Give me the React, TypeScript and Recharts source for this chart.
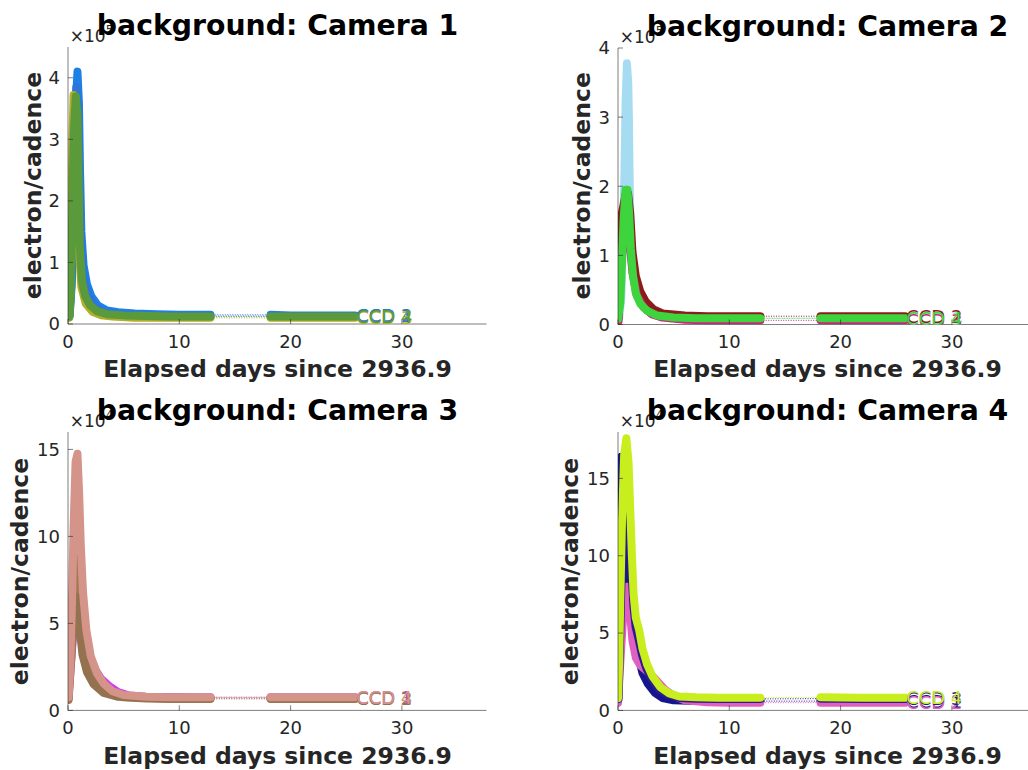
import React from "react";
import { LineChart, Line, XAxis, YAxis } from "recharts";

type Pair = [number, number];

const FONT = "'DejaVu Sans', 'Liberation Sans', sans-serif";
const INK = "#262626";

const xTicks = [0, 10, 20, 30];
const xMax = 37.6;
const smallYTicks = [0, 1, 2, 3, 4];
const bigYTicks = [0, 5, 10, 15];
const ccdNames = ["CCD 1", "CCD 2", "CCD 3", "CCD 4"];

// camera 1, x 1e5
const cam1Ccd1: Pair[] = [[0.15, 0.13], [0.35, 0.7], [0.5, 2.2], [0.65, 3.4], [0.85, 4.1], [0.98, 3.6], [1.08, 2.5], [1.2, 1.5], [1.4, 0.95], [1.7, 0.65], [2.1, 0.45], [2.7, 0.3], [3.5, 0.22], [4.5, 0.19], [6, 0.17], [8, 0.16], [10, 0.15], [11.5, 0.15], [12.8, 0.15], [18.2, 0.15], [20, 0.14], [22, 0.14], [24, 0.14], [25.8, 0.14]];
const cam1Ccd2: Pair[] = [[0.12, 0.12], [0.3, 0.6], [0.45, 2.0], [0.6, 3.3], [0.75, 3.85], [0.9, 3.3], [1.0, 2.2], [1.15, 1.2], [1.4, 0.7], [1.8, 0.45], [2.3, 0.3], [3, 0.2], [4, 0.16], [6, 0.14], [8, 0.13], [10, 0.13], [11.5, 0.13], [12.8, 0.13], [18.2, 0.13], [20, 0.13], [22, 0.13], [24, 0.13], [25.8, 0.13]];
const cam1Ccd3: Pair[] = [[0.1, 0.1], [0.2, 0.5], [0.3, 1.8], [0.4, 3.0], [0.5, 3.72], [0.65, 3.4], [0.8, 2.4], [0.95, 1.3], [1.2, 0.6], [1.6, 0.33], [2.2, 0.2], [3, 0.14], [4, 0.12], [6, 0.1], [8, 0.1], [10, 0.1], [11.5, 0.1], [12.8, 0.1], [18.2, 0.1], [20, 0.1], [22, 0.1], [24, 0.1], [25.8, 0.1]];
const cam1Ccd4: Pair[] = [[0.1, 0.12], [0.25, 0.45], [0.38, 1.8], [0.52, 3.1], [0.7, 3.7], [0.85, 3.4], [0.95, 2.4], [1.05, 1.3], [1.25, 0.7], [1.55, 0.45], [2.0, 0.3], [2.6, 0.21], [3.5, 0.16], [5, 0.14], [7, 0.13], [9, 0.12], [11, 0.12], [12.8, 0.12], [18.2, 0.12], [20, 0.12], [22, 0.12], [24, 0.12], [25.8, 0.12]];
const cam1Colors = ["#1e7fe6", "#2f74d8", "#b3ad2a", "#5b9a3b"];

// camera 2, x 1e5
const cam2Ccd1: Pair[] = [[0.1, 0.08], [0.3, 0.4], [0.45, 1.2], [0.58, 2.2], [0.68, 3.2], [0.8, 3.78], [0.92, 3.5], [0.98, 3.0], [1.03, 2.3], [1.1, 1.6], [1.25, 1.0], [1.5, 0.6], [1.9, 0.38], [2.5, 0.24], [3.5, 0.16], [5, 0.11], [7, 0.09], [9, 0.09], [11, 0.09], [12.8, 0.09], [18.2, 0.09], [20, 0.09], [22, 0.09], [24, 0.09], [25.8, 0.09]];
const cam2Ccd2: Pair[] = [[0.05, 0.1], [0.1, 0.7], [0.18, 1.5], [0.4, 1.65], [0.7, 1.9], [0.9, 1.9], [1.1, 1.6], [1.3, 1.05], [1.6, 0.7], [2.0, 0.48], [2.5, 0.33], [3.2, 0.22], [4, 0.16], [6, 0.13], [8, 0.12], [10, 0.12], [11.5, 0.12], [12.8, 0.12], [18.2, 0.12], [20, 0.12], [22, 0.12], [24, 0.12], [25.8, 0.12]];
const cam2Ccd3: Pair[] = [[0.05, 0.05], [0.15, 0.5], [0.4, 1.1], [0.7, 1.5], [1.0, 1.25], [1.3, 0.75], [1.7, 0.42], [2.3, 0.25], [3, 0.15], [4, 0.1], [6, 0.07], [8, 0.06], [10, 0.06], [11.5, 0.06], [12.8, 0.06], [18.2, 0.06], [20, 0.06], [22, 0.06], [24, 0.06], [25.8, 0.06]];
const cam2Ccd4: Pair[] = [[0.0, 0.08], [0.2, 0.3], [0.35, 0.9], [0.5, 1.5], [0.68, 1.95], [0.85, 1.95], [1.0, 1.6], [1.15, 1.1], [1.35, 0.7], [1.6, 0.45], [2.0, 0.3], [2.6, 0.2], [3.5, 0.13], [5, 0.1], [7, 0.09], [9, 0.09], [11, 0.09], [12.8, 0.09], [18.2, 0.09], [20, 0.09], [22, 0.09], [24, 0.09], [25.8, 0.09]];
const cam2Colors = ["#a6dcf2", "#8c1c1c", "#c8287a", "#3ed43e"];

// camera 3, x 1e4
const cam3Ccd1: Pair[] = [[0.05, 0.7], [0.3, 3], [0.6, 5.5], [0.85, 6.5], [1.1, 5.2], [1.4, 4.2], [1.8, 3.3], [2.3, 2.5], [3, 1.8], [3.8, 1.35], [4.5, 1.05], [5.5, 0.85], [7, 0.78], [9, 0.77], [11, 0.76], [12.8, 0.76], [18.2, 0.76], [20, 0.76], [22, 0.76], [24, 0.76], [25.8, 0.76]];
const cam3Ccd2: Pair[] = [[0.05, 0.6], [0.3, 3], [0.6, 6.5], [0.85, 8.8], [1.0, 7.5], [1.2, 5], [1.5, 3.5], [2, 2.3], [2.6, 1.6], [3.5, 1.05], [5, 0.75], [7, 0.68], [9, 0.66], [11, 0.66], [12.8, 0.66], [18.2, 0.66], [20, 0.66], [22, 0.66], [24, 0.66], [25.8, 0.66]];
const cam3Ccd3: Pair[] = [[0.05, 0.7], [0.25, 3.5], [0.5, 5.5], [0.8, 6.5], [1.0, 5.0], [1.3, 3.2], [1.7, 2.2], [2.3, 1.5], [3.2, 1.0], [4.5, 0.78], [6.5, 0.72], [8.5, 0.7], [10.5, 0.7], [12.8, 0.7], [18.2, 0.7], [20, 0.7], [22, 0.7], [24, 0.7], [25.8, 0.7]];
const cam3Ccd4: Pair[] = [[0.05, 0.75], [0.2, 2.5], [0.35, 6], [0.5, 10.5], [0.68, 14.3], [0.85, 14.75], [1.0, 12.5], [1.15, 9.5], [1.35, 6.8], [1.65, 4.6], [2.05, 3.1], [2.6, 2.15], [3.2, 1.55], [4, 1.1], [5, 0.88], [7, 0.78], [9, 0.76], [11, 0.75], [12.8, 0.75], [18.2, 0.75], [20, 0.75], [22, 0.75], [24, 0.75], [25.8, 0.75]];
const cam3Colors = ["#d23cf0", "#a27a52", "#947250", "#d4948a"];

// camera 4, x 1e4
const cam4Ccd1: Pair[] = [[0.0, 0.7], [0.05, 5], [0.1, 11], [0.2, 15.5], [0.3, 16.4], [0.45, 15], [0.6, 12], [0.8, 9.5], [1.0, 7], [1.2, 5.8], [1.5, 4.8], [1.8, 3.6], [2.2, 2.4], [2.7, 1.7], [3.3, 1.15], [4, 0.8], [5, 0.65], [7, 0.6], [9, 0.6], [11, 0.6], [12.8, 0.6], [18.2, 0.6], [20, 0.6], [22, 0.6], [24, 0.6], [25.8, 0.6]];
const cam4Ccd2: Pair[] = [[0.0, 0.5], [0.2, 3], [0.5, 6.5], [0.8, 8], [1.0, 7], [1.3, 4.5], [1.6, 3.4], [2.0, 2.9], [2.5, 2.6], [3, 2.3], [3.5, 1.9], [4.2, 1.35], [5, 0.95], [6, 0.65], [8, 0.52], [10, 0.5], [11.5, 0.5], [12.8, 0.5], [18.2, 0.5], [20, 0.5], [22, 0.5], [24, 0.5], [25.8, 0.5]];
const cam4Ccd3: Pair[] = [[0.05, 0.75], [0.15, 3.5], [0.3, 8], [0.5, 13], [0.72, 15], [0.92, 14], [1.08, 11.5], [1.22, 9], [1.38, 6.8], [1.58, 5.4], [1.85, 4.6], [2.15, 3.6], [2.55, 2.7], [3.05, 2.0], [3.7, 1.35], [4.5, 1.0], [5.5, 0.8], [7, 0.75], [9, 0.74], [11, 0.74], [12.8, 0.74], [18.2, 0.76], [20, 0.75], [22, 0.74], [24, 0.74], [25.8, 0.74]];
const cam4Ccd4: Pair[] = [[0.0, 0.8], [0.1, 3], [0.2, 7], [0.35, 12], [0.55, 16.5], [0.75, 17.6], [0.95, 16], [1.1, 13], [1.25, 10], [1.4, 7.5], [1.6, 6.0], [1.9, 5.2], [2.2, 4], [2.6, 3], [3.1, 2.2], [3.8, 1.5], [4.6, 1.1], [5.5, 0.9], [7, 0.85], [9, 0.82], [11, 0.82], [12.8, 0.82], [18.2, 0.85], [20, 0.83], [22, 0.82], [24, 0.82], [25.8, 0.82]];
const cam4Colors = ["#16168c", "#e060c0", "#2c1a8e", "#c8ee1e"];

const PLOT_W = 418.5;

const panels = [
  { title: "background: Camera 1", left: 68.3, top: 47, plotH: 277, yMax: 4.5, yTicks: smallYTicks, exp: "5", labGap: 27, series: [cam1Ccd1, cam1Ccd2, cam1Ccd3, cam1Ccd4], colors: cam1Colors },
  { title: "background: Camera 2", left: 618.3, top: 47.5, plotH: 276.5, yMax: 4, yTicks: smallYTicks, exp: "5", labGap: 28, series: [cam2Ccd1, cam2Ccd2, cam2Ccd3, cam2Ccd4], colors: cam2Colors },
  { title: "background: Camera 3", left: 68.3, top: 432.3, plotH: 278.4, yMax: 16, yTicks: bigYTicks, exp: "4", labGap: 40, series: [cam3Ccd1, cam3Ccd2, cam3Ccd3, cam3Ccd4], colors: cam3Colors },
  { title: "background: Camera 4", left: 618.3, top: 432.3, plotH: 278.4, yMax: 18, yTicks: bigYTicks, exp: "4", labGap: 40, series: [cam4Ccd1, cam4Ccd2, cam4Ccd3, cam4Ccd4], colors: cam4Colors },
];

const toRows = (pairs: Pair[]) => pairs.map(([day, v]) => ({ day, v }));

// split the trace where the data has a hole (the markers stop there)
const splitAtGap = (pairs: Pair[]) => {
  const parts: Pair[][] = [[]];
  pairs.forEach((pt, i) => {
    if (i > 0 && pt[0] - pairs[i - 1][0] > 3) parts.push([]);
    parts[parts.length - 1].push(pt);
  });
  return parts;
};

const axisLine = { stroke: INK, strokeWidth: 0.6 };
const tickFont = { fill: INK, fontSize: 18, fontFamily: FONT };

const Panel = ({ p }: { p: (typeof panels)[number] }) => {
  const yW = 60;
  const mTop = 20;
  const mRight = 20;
  const xH = 40;
  return (
    <div style={{ position: "absolute", left: p.left - yW, top: p.top - mTop }}>
      <LineChart
        width={yW + PLOT_W + mRight}
        height={mTop + p.plotH + xH}
        margin={{ top: mTop, right: mRight, left: 0, bottom: 0 }}
      >
        <XAxis xAxisId="b" type="number" dataKey="day" domain={[0, xMax]} ticks={xTicks} allowDataOverflow
          height={xH} tickSize={-5} tickMargin={16} tick={tickFont} axisLine={axisLine} tickLine={axisLine} />
        <XAxis xAxisId="t" orientation="top" type="number" dataKey="day" domain={[0, xMax]} ticks={xTicks} allowDataOverflow
          height={0} tickSize={-5} tick={false} axisLine={axisLine} tickLine={axisLine} />
        <YAxis yAxisId="l" type="number" domain={[0, p.yMax]} ticks={p.yTicks} allowDataOverflow
          width={yW} tickSize={-5} tickMargin={13} tick={tickFont} axisLine={axisLine} tickLine={axisLine} />
        <YAxis yAxisId="r" orientation="right" type="number" domain={[0, p.yMax]} ticks={p.yTicks} allowDataOverflow
          width={0} tickSize={-5} tick={false} axisLine={axisLine} tickLine={axisLine} />
        {p.series.flatMap((pairs, i) => {
          const color = p.colors[i];
          const rows = toRows(pairs);
          const last = rows.length - 1;
          return [
            <Line key={`thin-${i}`} xAxisId="b" yAxisId="l" data={rows} dataKey="v" type="linear"
              stroke={color} strokeWidth={1} strokeDasharray="1 1.5" isAnimationActive={false}
              dot={(d: any) =>
                d.index === last ? (
                  <text key={`lab-${i}`} x={d.cx + 1} y={d.cy} dy="0.36em" fill={color}
                    fontSize={18} fontFamily={FONT}>{ccdNames[i]}</text>
                ) : (
                  <g key={`nd-${i}-${d.index}`} />
                )
              }
              activeDot={false} />,
            ...splitAtGap(pairs).map((part, j) => (
              <Line key={`thick-${i}-${j}`} xAxisId="b" yAxisId="l" data={toRows(part)} dataKey="v" type="linear"
                stroke={color} strokeWidth={8} strokeLinecap="round" strokeLinejoin="round"
                dot={false} activeDot={false} isAnimationActive={false} />
            )),
          ];
        })}
      </LineChart>
    </div>
  );
};

export default function App() {
  return (
    <div style={{ position: "absolute", left: 0, top: 0, width: 1028, height: 770, overflow: "hidden", background: "#fff" }}>
      {panels.map((p) => (
        <Panel key={p.title} p={p} />
      ))}
      <svg width={1028} height={770} style={{ position: "absolute", left: 0, top: 0, pointerEvents: "none" }}>
        {panels.map((p) => {
          const cx = p.left + PLOT_W / 2;
          const cy = p.top + p.plotH / 2;
          const bottom = p.top + p.plotH;
          return (
            <g key={p.title} fontFamily={FONT}>
              <text x={p.left + 1.5} y={p.top - 5} fontSize={17} fill={INK}>
                ×10<tspan dy={-8} fontSize={12}>{p.exp}</tspan>
              </text>
              <text x={cx} y={p.top - 12} textAnchor="middle" fontSize={28.3} fontWeight="bold" fill="#000">
                {p.title}
              </text>
              <text transform={`translate(${p.left - p.labGap}, ${cy}) rotate(-90)`} textAnchor="middle"
                fontSize={23.5} fontWeight="bold" fill={INK}>
                electron/cadence
              </text>
              <text x={cx} y={bottom + 53} textAnchor="middle" fontSize={23.5} fontWeight="bold" fill={INK}>
                Elapsed days since 2936.9
              </text>
            </g>
          );
        })}
      </svg>
    </div>
  );
}
